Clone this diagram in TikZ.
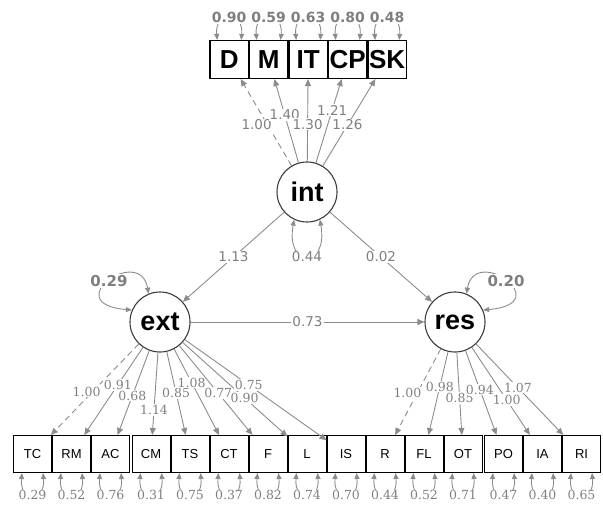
\documentclass[tikz,border=0pt]{standalone}
\usepackage{fontspec}
\setmainfont{DejaVu Sans}
\newfontfamily\boxfont{Liberation Sans}
\newfontfamily\smallfont{DejaVu Serif}
\usetikzlibrary{arrows.meta,positioning,calc}
\definecolor{edge-gray}{HTML}{8C8C8C}
\definecolor{lbl-gray}{HTML}{7F7F7F}
\definecolor{ring-gray}{HTML}{3C3C3C}

\begin{document}
\begin{tikzpicture}[x=1pt,y=-1pt,
  latent/.style={circle,draw=ring-gray,line width=1.1pt,minimum size=60pt,inner sep=0pt,font=\boxfont\fontsize{27}{27}\selectfont\bfseries},
  obstop/.style={rectangle,draw=black,line width=1.1pt,minimum width=38.4pt,minimum height=38pt,inner sep=0pt,font=\boxfont\fontsize{26}{26}\selectfont\bfseries},
  obsbot/.style={rectangle,draw=black,line width=1pt,minimum width=38pt,minimum height=37pt,inner sep=0pt,font=\boxfont\fontsize{13}{13}\selectfont},
  load/.style={draw=edge-gray,line width=0.9pt,-{Triangle[length=7pt,width=6pt]}},
  fixed/.style={dash pattern=on 6pt off 4pt},
  resid/.style={draw=edge-gray,line width=0.9pt,{Triangle[length=6pt,width=5pt]}-{Triangle[length=6pt,width=5pt]}},
  lbl/.style={fill=white,inner sep=1pt,text=lbl-gray,font=\fontsize{13.5}{13.5}\selectfont},
  blbl/.style={lbl,font=\smallfont\fontsize{12.5}{12.5}\selectfont},
  tlbl/.style={lbl,font=\bfseries\fontsize{14}{14}\selectfont},
  llbl/.style={lbl,font=\bfseries\fontsize{15}{15}\selectfont}]
  \useasboundingbox (0,0) rectangle (603,508);

  % latent variables
  \node[latent] (int) at (307,192) {int};
  \node[latent] (ext) at (160,322) {ext};
  \node[latent] (res) at (455,322) {res};

  % indicators of int
  \node[obstop] (D) at (229.2,59.5) {D};
  \node[obstop,right=0pt of D] (M) {M};
  \node[obstop,right=0pt of M] (IT) {IT};
  \node[obstop,right=0pt of IT] (CP) {CP};
  \node[obstop,right=0pt of CP] (SK) {SK};

  % indicators of ext and res
  \node[obsbot] (TC) at (32.5,454) {TC};
  \node[obsbot,right=0pt of TC] (RM) {RM};
  \node[obsbot,right=0pt of RM] (AC) {AC};
  \node[obsbot,right=1.5pt of AC] (CM) {CM};
  \node[obsbot,right=0pt of CM] (TS) {TS};
  \node[obsbot,right=0pt of TS] (CT) {CT};
  \node[obsbot,right=0pt of CT] (F) {F};
  \node[obsbot,right=0pt of F] (L) {L};
  \node[obsbot,right=0pt of L] (IS) {IS};
  \node[obsbot,right=0pt of IS] (R) {R};
  \node[obsbot,right=0pt of R] (FL) {FL};
  \node[obsbot,right=0pt of FL] (OT) {OT};
  \node[obsbot,right=1.5pt of OT] (PO) {PO};
  \node[obsbot,right=0pt of PO] (IA) {IA};
  \node[obsbot,right=0pt of IA] (RI) {RI};

  % loadings
  \draw[load,fixed] (int) -- node[lbl,pos=0.47,xshift=-11pt]{1.00} (D);
  \draw[load] (int) -- node[lbl,pos=0.57]{1.40} (M);
  \draw[load] (int) -- node[lbl,pos=0.45]{1.30} (IT);
  \draw[load] (int) -- node[lbl,pos=0.63]{1.21} (CP);
  \draw[load] (int) -- node[lbl,pos=0.47]{1.26} (SK);

  \draw[load,fixed] (ext) -- node[blbl,pos=0.525,xshift=-6pt]{1.00} (TC);
  \draw[load] (ext) -- node[blbl,pos=0.427]{0.91} (RM);
  \draw[load] (ext) -- node[blbl,pos=0.535]{0.68} (AC);
  \draw[load] (ext) -- node[blbl,pos=0.696]{1.14} (CM);
  \draw[load] (ext) -- node[blbl,pos=0.496]{0.85} (TS);
  \draw[load] (ext) -- node[blbl,pos=0.389]{1.08} (CT);
  \draw[load] (ext) -- node[blbl,pos=0.532]{0.77} (F);
  \draw[load] (ext) -- node[blbl,pos=0.59]{0.90} (L);
  \draw[load] (ext) -- node[blbl,pos=0.451]{0.75} (IS);

  \draw[load,fixed] (res) -- node[blbl,pos=0.51,xshift=-10pt]{1.00} (R);
  \draw[load] (res) -- node[blbl,pos=0.42]{0.98} (FL);
  \draw[load] (res) -- node[blbl,pos=0.55]{0.85} (OT);
  \draw[load] (res) -- node[blbl,pos=0.463]{0.94} (PO);
  \draw[load] (res) -- node[blbl,pos=0.6]{1.00} (IA);
  \draw[load] (res) -- node[blbl,pos=0.48]{1.07} (RI);

  % structural paths
  \draw[load] (int) -- node[lbl]{1.13} (ext);
  \draw[load] (int) -- node[lbl]{0.02} (res);
  \draw[load] (ext) -- node[lbl]{0.73} (res);

  % variances
  \draw[resid] (int.-115) .. controls +(-100:50pt) and +(-80:50pt) .. (int.-65) node[lbl,pos=0.5]{0.44};
  \draw[resid] (ext.112) .. controls +(100:50pt) and +(175:75pt) .. (ext.157) node[llbl,pos=0.5]{0.29};
  \draw[resid] (res.68) .. controls +(80:50pt) and +(5:75pt) .. (res.23) node[llbl,pos=0.5]{0.20};

  \foreach \n/\v in {D/0.90,M/0.59,IT/0.63,CP/0.80,SK/0.48}
    \draw[resid] ($(\n.north)+(-12,0)$) .. controls +(95:30pt) and +(85:30pt) .. ($(\n.north)+(12,0)$) node[tlbl,pos=0.5]{\v};
  \foreach \n/\v in {TC/0.29,RM/0.52,AC/0.76,CM/0.31,TS/0.75,CT/0.37,F/0.82,L/0.74,IS/0.70,R/0.44,FL/0.52,OT/0.71,PO/0.47,IA/0.40,RI/0.65}
    \draw[resid] ($(\n.south)+(-10.5,0)$) .. controls +(-95:30pt) and +(-85:30pt) .. ($(\n.south)+(10.5,0)$) node[blbl,pos=0.5]{\v};
\end{tikzpicture}
\end{document}
